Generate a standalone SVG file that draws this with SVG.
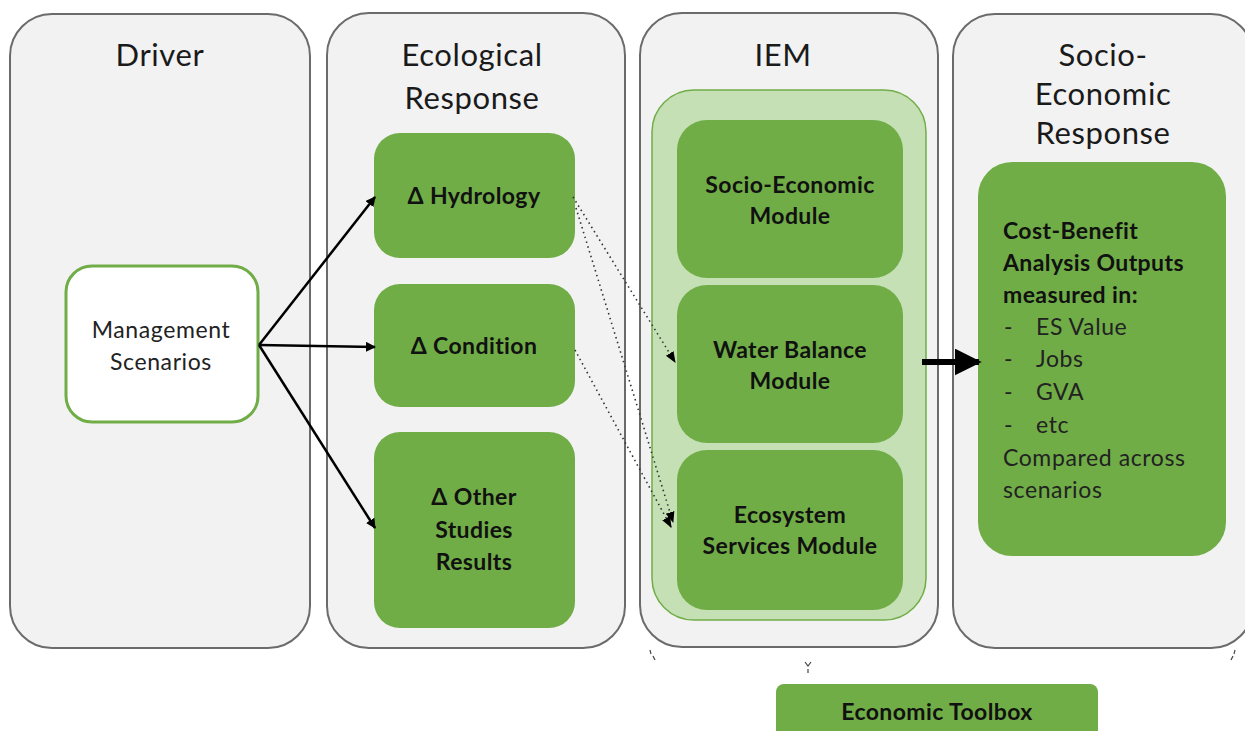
<svg xmlns="http://www.w3.org/2000/svg" width="1245" height="731" viewBox="0 0 1245 731">
  <style>
    .col { fill: #f2f2f2; stroke: #6b6b6b; stroke-width: 2; }
    .box { fill: #70ad47; }
    .panel { fill: #c5e0b4; stroke: #70ad47; stroke-width: 1.5; }
    .head { font-family: Lato, "Open Sans", sans-serif; font-size: 31px; letter-spacing: 0.6px; fill: #1a1a1a; text-anchor: middle; }
    .lbl { font-family: Lato, "Open Sans", sans-serif; font-size: 23px; letter-spacing: 0.4px; font-weight: bold; fill: #111; text-anchor: middle; }
    .plain { font-family: Lato, "Open Sans", sans-serif; font-size: 23px; letter-spacing: 0.6px; fill: #222; }
    .bold { font-family: Lato, "Open Sans", sans-serif; font-size: 23px; letter-spacing: 0.4px; font-weight: bold; fill: #111; }
    .solid { stroke: #000; stroke-width: 2.5; fill: none; }
    .dot { stroke: #333; stroke-width: 1.6; stroke-dasharray: 1.5 3.5; fill: none; }
  </style>
  <defs>
    <marker id="arr" viewBox="0 0 10 10" refX="9" refY="5" markerWidth="4" markerHeight="4" orient="auto" markerUnits="strokeWidth">
      <path d="M0,0 L10,5 L0,10 z" fill="#000"/>
    </marker>
    <marker id="arrDot" viewBox="0 0 10 10" refX="9" refY="5" markerWidth="7" markerHeight="7" orient="auto" markerUnits="strokeWidth">
      <path d="M0,1 L10,5 L0,9 z" fill="#000"/>
    </marker>
    <marker id="arrBig" viewBox="0 0 10 10" refX="9" refY="5" markerWidth="4.5" markerHeight="4.5" orient="auto" markerUnits="strokeWidth">
      <path d="M0,0 L10,5 L0,10 z" fill="#000"/>
    </marker>
  </defs>

  <rect width="1245" height="731" fill="#ffffff"/>

  <!-- column: Driver -->
  <g id="driver">
    <rect class="col" x="10" y="14" width="300" height="634" rx="42"/>
    <text class="head" x="160" y="66">Driver</text>
  </g>

  <!-- column: Ecological Response -->
  <g id="ecological-response">
    <rect class="col" x="327" y="13" width="298" height="635" rx="42"/>
    <text class="head" x="472" y="66">Ecological</text>
    <text class="head" x="472" y="109">Response</text>
  </g>

  <!-- column: IEM -->
  <g id="iem">
    <rect class="col" x="640" y="13" width="298" height="634" rx="42"/>
    <text class="head" x="783" y="66">IEM</text>
    <rect class="panel" x="652" y="90" width="274" height="530" rx="42"/>
  </g>

  <!-- column: Socio-Economic Response -->
  <g id="socio-economic-response">
    <rect class="col" x="953" y="14" width="300" height="634" rx="42"/>
    <text class="head" x="1103" y="66">Socio-</text>
    <text class="head" x="1103" y="105">Economic</text>
    <text class="head" x="1103" y="144">Response</text>
  </g>

  <g id="management-scenarios">
    <rect x="66" y="266" width="192" height="156" rx="26" fill="#ffffff" stroke="#70ad47" stroke-width="3"/>
    <text class="plain" text-anchor="middle" x="161" y="338">Management</text>
    <text class="plain" text-anchor="middle" x="161" y="370">Scenarios</text>
  </g>

  <g id="hydrology">
    <rect class="box" x="374" y="133" width="201" height="125" rx="26"/>
    <text class="lbl" x="474" y="204">Δ Hydrology</text>
  </g>

  <g id="condition">
    <rect class="box" x="374" y="284" width="201" height="123" rx="26"/>
    <text class="lbl" x="474" y="354">Δ Condition</text>
  </g>

  <g id="other-studies">
    <rect class="box" x="374" y="432" width="201" height="196" rx="26"/>
    <text class="lbl" x="474" y="505">Δ Other</text>
    <text class="lbl" x="474" y="538">Studies</text>
    <text class="lbl" x="474" y="570">Results</text>
  </g>

  <g id="socio-economic-module">
    <rect class="box" x="677" y="120" width="226" height="158" rx="30"/>
    <text class="lbl" x="790" y="193">Socio-Economic</text>
    <text class="lbl" x="790" y="224">Module</text>
  </g>

  <g id="water-balance-module">
    <rect class="box" x="677" y="285" width="226" height="158" rx="30"/>
    <text class="lbl" x="790" y="358">Water Balance</text>
    <text class="lbl" x="790" y="389">Module</text>
  </g>

  <g id="ecosystem-services-module">
    <rect class="box" x="677" y="450" width="226" height="160" rx="30"/>
    <text class="lbl" x="790" y="523">Ecosystem</text>
    <text class="lbl" x="790" y="554">Services Module</text>
  </g>

  <g id="cost-benefit">
    <rect class="box" x="978" y="162" width="248" height="394" rx="34"/>
    <text class="bold" x="1003" y="239">Cost-Benefit</text>
    <text class="bold" x="1003" y="271">Analysis Outputs</text>
    <text class="bold" x="1003" y="303">measured in:</text>
    <text class="plain" x="1004" y="335">-</text>
    <text class="plain" x="1036" y="335">ES Value</text>
    <text class="plain" x="1004" y="367">-</text>
    <text class="plain" x="1036" y="367">Jobs</text>
    <text class="plain" x="1004" y="400">-</text>
    <text class="plain" x="1036" y="400">GVA</text>
    <text class="plain" x="1004" y="433">-</text>
    <text class="plain" x="1036" y="433">etc</text>
    <text class="plain" x="1003" y="466">Compared across</text>
    <text class="plain" x="1003" y="498">scenarios</text>
  </g>

  <g id="economic-toolbox">
    <rect class="box" x="776" y="684" width="322" height="60" rx="8"/>
    <text class="lbl" x="937" y="720">Economic Toolbox</text>
  </g>

  <!-- bracket remnants above the toolbox -->
  <g id="bracket" stroke="#444" stroke-width="1.2" fill="none">
    <path d="M650,650 l1,4"/>
    <path d="M653,656 l2,4"/>
    <path d="M805,662 l3,4 l3,-4"/>
    <path d="M808,669 v4"/>
    <path d="M1235,650 l-1,4"/>
    <path d="M1233,656 l-2,4"/>
  </g>

  <g id="connectors">
    <line class="solid" x1="259" y1="345" x2="375" y2="197" marker-end="url(#arr)"/>
    <line class="solid" x1="259" y1="345" x2="375" y2="347" marker-end="url(#arr)"/>
    <line class="solid" x1="259" y1="345" x2="375" y2="528" marker-end="url(#arr)"/>
    <line class="dot" x1="573" y1="197" x2="675" y2="362" marker-end="url(#arrDot)"/>
    <line class="dot" x1="576" y1="208" x2="673" y2="522" marker-end="url(#arrDot)"/>
    <line class="dot" x1="575" y1="350" x2="671" y2="527" marker-end="url(#arrDot)"/>
    <line x1="922" y1="362" x2="979" y2="362" stroke="#000" stroke-width="6" marker-end="url(#arrBig)"/>
  </g>
</svg>
